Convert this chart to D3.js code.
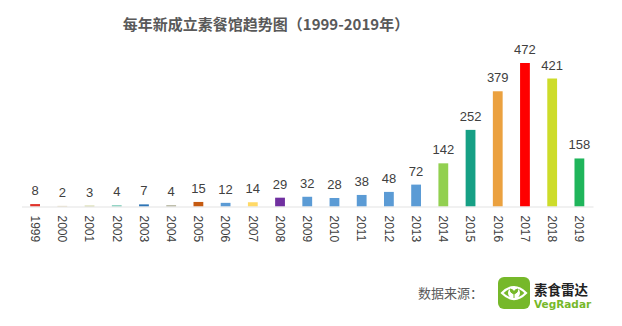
<!DOCTYPE html>
<html><head><meta charset="utf-8">
<script src="https://cdn.jsdelivr.net/npm/d3@7"></script>
<style>
html,body{margin:0;padding:0;background:#fff;}
svg{display:block;font-family:"Noto Sans CJK SC","Noto Sans",sans-serif;}
</style></head>
<body><svg id="chart" width="622" height="326"></svg>
<script>
// Newly opened vegetarian restaurants per year
const years = ["1999","2000","2001","2002","2003","2004","2005","2006","2007","2008","2009",
               "2010","2011","2012","2013","2014","2015","2016","2017","2018","2019"];
const counts = [8,2,3,4,7,4,15,12,14,29,32,28,38,48,72,142,252,379,472,421,158];
const barColors = ["#e0342c","#d9c9a0","#c8cc8a","#6cc5b0","#2e75b6","#a5a58a","#c55a11","#5b9bd5",
                   "#ffd966","#7030a0","#5b9bd5","#5b9bd5","#5b9bd5","#5b9bd5","#5b9bd5","#92d050",
                   "#16a085","#eba13f","#ff0000","#cddc2a","#1fb55b"];
const titleText = "每年新成立素餐馆趋势图（1999-2019年）";
const sourceLabel = "数据来源：";
const brandName = "素食雷达";
const brandLatin = "VegRadar";

const svg = d3.select("#chart");

const baseY = 206.5;
const x = d3.scaleBand().domain(years).range([21.5, 593]).paddingInner(0.64).paddingOuter(0.32);
const y = d3.scaleLinear().domain([0, 472]).range([baseY, 63]);

// title
svg.append("text").attr("x", 266).attr("y", 30).attr("text-anchor", "middle")
  .attr("font-size", 15).attr("font-weight", 600).attr("fill", "#595959").text(titleText);

// bars
svg.append("g").selectAll("rect").data(years).join("rect")
  .attr("x", d => x(d)).attr("width", x.bandwidth())
  .attr("y", (d, i) => y(counts[i]))
  .attr("height", (d, i) => baseY - y(counts[i]))
  .attr("fill", (d, i) => barColors[i]);

// baseline and category labels
const axis = d3.axisBottom(x).tickSize(0).tickPadding(0);
const gx = svg.append("g").attr("transform", `translate(0,${baseY})`).call(axis);
gx.select(".domain").attr("stroke", "#e3e3e3").attr("stroke-width", 1.2);
gx.selectAll(".tick text")
  .attr("transform", "translate(0,9) rotate(90)")
  .attr("text-anchor", "start").attr("dy", "0.35em").attr("dx", 0)
  .attr("font-size", 12).attr("fill", "#404040")
  .attr("font-family", "'Liberation Sans', Arial, sans-serif");

// value labels
svg.append("g").selectAll("text").data(years).join("text")
  .attr("x", d => x(d) + x.bandwidth() / 2)
  .attr("y", (d, i) => y(counts[i]) - 9)
  .attr("text-anchor", "middle").attr("font-size", 13).attr("fill", "#404040")
  .attr("font-family", "'Liberation Sans', Arial, sans-serif")
  .text((d, i) => counts[i]);

// source note
svg.append("text").attr("x", 418).attr("y", 298).attr("font-size", 13)
  .attr("fill", "#595959").text(sourceLabel);

// logo badge
const logo = svg.append("g").attr("transform", "translate(498,277)");
logo.append("rect").attr("width", 32).attr("height", 32).attr("rx", 6).attr("fill", "#76b82a");
logo.append("path").attr("d", "M4,16 Q16,4 28,16 Q16,28 4,16 Z")
  .attr("fill", "none").attr("stroke", "#fff").attr("stroke-width", 2.2);
logo.append("circle").attr("cx", 16).attr("cy", 16).attr("r", 6).attr("fill", "#fff");
logo.append("path").attr("d", "M16,21 L16,14 M16,17 Q12,16 12,12 Q15,12 16,15 M16,17 Q20,16 20,12 Q17,12 16,15")
  .attr("fill", "#76b82a").attr("stroke", "#76b82a").attr("stroke-width", 1);

svg.append("text").attr("x", 534).attr("y", 295).attr("font-size", 13.5).attr("font-weight", 700)
  .attr("fill", "#222").text(brandName);
svg.append("text").attr("x", 534).attr("y", 308).attr("font-size", 10.5).attr("font-weight", 700)
  .attr("fill", "#76b82a").attr("font-family", "'DejaVu Sans', sans-serif").text(brandLatin);
</script>
</body></html>
